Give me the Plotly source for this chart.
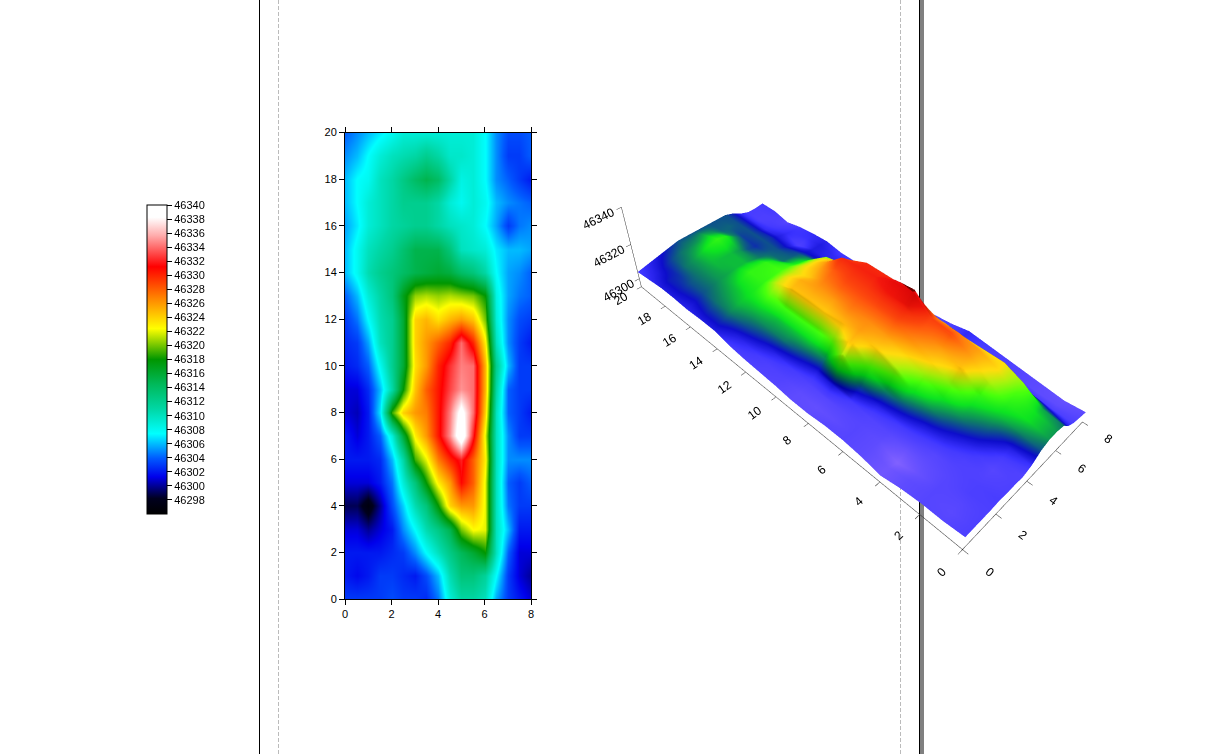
import plotly.graph_objects as go

W = 1218
H = 754

x_vals = [0, 0.5, 1, 1.5, 2, 2.5, 3, 3.5, 4, 4.5, 5, 5.5, 6, 6.5, 7, 7.5, 8]
y_vals = list(range(21))

# magnetic field, bottom row (y=0) first
field = [
    [46303, 46303, 46303, 46303, 46303.5, 46303, 46303, 46302.5, 46304.5, 46309, 46311, 46311, 46310, 46305.5, 46303, 46302, 46301],
    [46302, 46301.5, 46302, 46303, 46303, 46302.5, 46302, 46303.5, 46306, 46310.5, 46313, 46313, 46311.5, 46307.5, 46303, 46301, 46300],
    [46302, 46302, 46302, 46302, 46302.5, 46303, 46305, 46307.5, 46310, 46312.5, 46314.5, 46316, 46318, 46310, 46304, 46301, 46301],
    [46301, 46301, 46300, 46301, 46302, 46305, 46307.5, 46310.5, 46312.5, 46315, 46320, 46322.5, 46322, 46310, 46306, 46302, 46302],
    [46299, 46299, 46297, 46300, 46303.5, 46306.5, 46310.5, 46313, 46318, 46324, 46326, 46326, 46322, 46310, 46304.5, 46303, 46303],
    [46301, 46301, 46301, 46302, 46304.5, 46309, 46313, 46318, 46323, 46326, 46331, 46328, 46322, 46310, 46304, 46303, 46304],
    [46302, 46302, 46302, 46302.5, 46306, 46311, 46319, 46322, 46327, 46330, 46332, 46328, 46323, 46310, 46305, 46305, 46305],
    [46302, 46301, 46302, 46304, 46309, 46316, 46323, 46326, 46330.5, 46335, 46341, 46332, 46322, 46310, 46305, 46303, 46303],
    [46301, 46300.5, 46302, 46307, 46319, 46324, 46326, 46327, 46330.5, 46334.5, 46339.5, 46334, 46324, 46310, 46304, 46303, 46302],
    [46301, 46301, 46302.5, 46306, 46311, 46318, 46324.5, 46328, 46330.5, 46333, 46335, 46334, 46325, 46311, 46304, 46303, 46303],
    [46302, 46302.5, 46304, 46308, 46312, 46316, 46323.5, 46326, 46330, 46332.5, 46334.5, 46334, 46325, 46312, 46306, 46303, 46303],
    [46302.5, 46303, 46305.5, 46310, 46312, 46316, 46324, 46326, 46328, 46330, 46334, 46330, 46323, 46310, 46305, 46303, 46302],
    [46303, 46304.5, 46307.5, 46310.5, 46312, 46316, 46324, 46325, 46323.5, 46325, 46326, 46324.5, 46320, 46309, 46305, 46303.5, 46303],
    [46304, 46306, 46309, 46311, 46313, 46317, 46320.5, 46321, 46320.5, 46321, 46320.5, 46320, 46318, 46308.5, 46305.5, 46304.5, 46304],
    [46306, 46308, 46310.5, 46312, 46313, 46314, 46315, 46315.5, 46316, 46315.5, 46314, 46313, 46311, 46307.5, 46305.5, 46305, 46304],
    [46306, 46308, 46310, 46311, 46312, 46313.5, 46315, 46315, 46315, 46313, 46310, 46309.5, 46309, 46307, 46306, 46306, 46305.5],
    [46305.5, 46307, 46309, 46310, 46311, 46311.5, 46312, 46312, 46311, 46310, 46309.5, 46309, 46307.5, 46305.5, 46303, 46304.5, 46305],
    [46306, 46307.5, 46309, 46310, 46311, 46312, 46312, 46312, 46311, 46309, 46308, 46309, 46308, 46306, 46305, 46304.5, 46304],
    [46306, 46307.5, 46308, 46310, 46311, 46312.5, 46314, 46315, 46314, 46311, 46308.5, 46309, 46307.5, 46305, 46304, 46303, 46302],
    [46305, 46306, 46307.5, 46309, 46310, 46310.5, 46311, 46312, 46311, 46309.5, 46309.5, 46309, 46307.5, 46305, 46303, 46303, 46304],
    [46304, 46305, 46306, 46307, 46308, 46309, 46309, 46309, 46309, 46309, 46309, 46309, 46307.5, 46305, 46303.5, 46303.5, 46304],
]

colorbar_ticks = list(range(46298, 46341, 2))
z_ticks = [46300, 46320, 46340]

# colours of the legend bar, 46296..46340
map_colors = [
    [0.00, "rgb(0,0,0)"],
    [0.05, "rgb(0,0,30)"],
    [0.12, "rgb(0,0,235)"],
    [0.18, "rgb(0,90,255)"],
    [0.26, "rgb(0,255,255)"],
    [0.34, "rgb(0,215,165)"],
    [0.42, "rgb(0,185,90)"],
    [0.50, "rgb(0,150,0)"],
    [0.60, "rgb(255,255,0)"],
    [0.70, "rgb(255,130,0)"],
    [0.80, "rgb(255,0,0)"],
    [0.90, "rgb(255,170,170)"],
    [0.96, "rgb(255,255,255)"],
    [1.00, "rgb(255,255,255)"],
]

# the 3d surface uses its own colours
surface_colors = [
    [0.00, "rgb(125,90,255)"],
    [0.18, "rgb(55,45,255)"],
    [0.25, "rgb(0,0,190)"],
    [0.32, "rgb(0,110,90)"],
    [0.39, "rgb(0,215,20)"],
    [0.46, "rgb(60,245,0)"],
    [0.53, "rgb(160,230,0)"],
    [0.60, "rgb(250,205,0)"],
    [0.70, "rgb(250,130,0)"],
    [0.80, "rgb(240,60,0)"],
    [0.90, "rgb(230,10,0)"],
    [1.00, "rgb(220,0,0)"],
]

font = dict(family="Liberation Sans, Arial", size=11, color="black")


def vline(px, color, width=1, dash="solid"):
    return dict(type="line", xref="paper", yref="paper", x0=px / W, x1=px / W, y0=0, y1=1,
                line=dict(color=color, width=width, dash=dash), layer="below")


def axis3d(ticks=None):
    ax = dict(showbackground=False, showgrid=False, zeroline=False, showspikes=False,
              showline=True, linecolor="#333333", linewidth=1, ticks="outside", ticklen=5,
              tickcolor="#333333", title=dict(text=""), tickformat="d",
              tickfont=dict(family="Liberation Sans, Arial", size=12, color="black"))
    if ticks:
        ax["tickvals"] = ticks
    return ax


fig = go.Figure()

fig.add_trace(go.Heatmap(
    x=x_vals, y=y_vals, z=field, zsmooth="best", colorscale=map_colors,
    zmin=46296, zmax=46340, hoverinfo="skip",
    colorbar=dict(
        x=147 / W, xanchor="left", xpad=0, y=(H - 514) / H, yanchor="bottom", ypad=0,
        lenmode="pixels", len=309, thicknessmode="pixels", thickness=20,
        outlinecolor="black", outlinewidth=1, tickmode="array", tickvals=colorbar_ticks,
        ticks="outside", ticklen=5, tickcolor="black", tickfont=font, tickformat="d",
    ),
))

fig.add_trace(go.Surface(
    x=x_vals, y=y_vals, z=field, colorscale=surface_colors, cmin=46296, cmax=46340,
    showscale=False, hoverinfo="skip",
    lighting=dict(ambient=0.5, diffuse=0.75, specular=0.1, roughness=0.8),
    lightposition=dict(x=0, y=0, z=1000),
))

fig.update_layout(
    width=W, height=H, margin=dict(l=0, r=0, t=0, b=0, autoexpand=False), autosize=False,
    paper_bgcolor="white", plot_bgcolor="white", font=font,
    xaxis=dict(domain=[345 / W, 531 / W], range=[0, 8], tickvals=[0, 2, 4, 6, 8],
               ticks="outside", ticklen=5, tickcolor="black", showline=True, linecolor="black",
               mirror="allticks", showgrid=False, zeroline=False, tickfont=font),
    yaxis=dict(domain=[(H - 599) / H, (H - 132.5) / H], range=[0, 20], tickvals=list(range(0, 21, 2)),
               ticks="outside", ticklen=5, tickcolor="black", showline=True, linecolor="black",
               mirror="allticks", showgrid=False, zeroline=False, tickfont=font),
    scene=dict(
        domain=dict(x=[542 / W, 1142 / W], y=[(H - 616) / H, (H - 4) / H]),
        aspectmode="manual", aspectratio=dict(x=0.8, y=2, z=0.48),
        xaxis=dict(axis3d(), range=[0, 8], tickvals=[0, 2, 4, 6, 8]),
        yaxis=dict(axis3d(), range=[0, 20], tickvals=list(range(0, 21, 2))),
        zaxis=dict(axis3d(z_ticks), range=[46295, 46340]),
        camera=dict(eye=dict(x=-1.64, y=-1.62, z=2.20), up=dict(x=0, y=0, z=1),
                    center=dict(x=0, y=0, z=0),
                    projection=dict(type="perspective")),
        bgcolor="rgba(0,0,0,0)",
    ),
    shapes=[
        vline(259.5, "black"),
        vline(278.5, "#bbbbbb", dash="4px,2px"),
        vline(900.5, "#bbbbbb", dash="4px,2px"),
        vline(919.5, "black"),
        vline(922, "#808080", width=4),
    ],
)

fig.write_html("out.html", post_script="document.body.style.margin='0';", config=dict(displayModeBar=False))
